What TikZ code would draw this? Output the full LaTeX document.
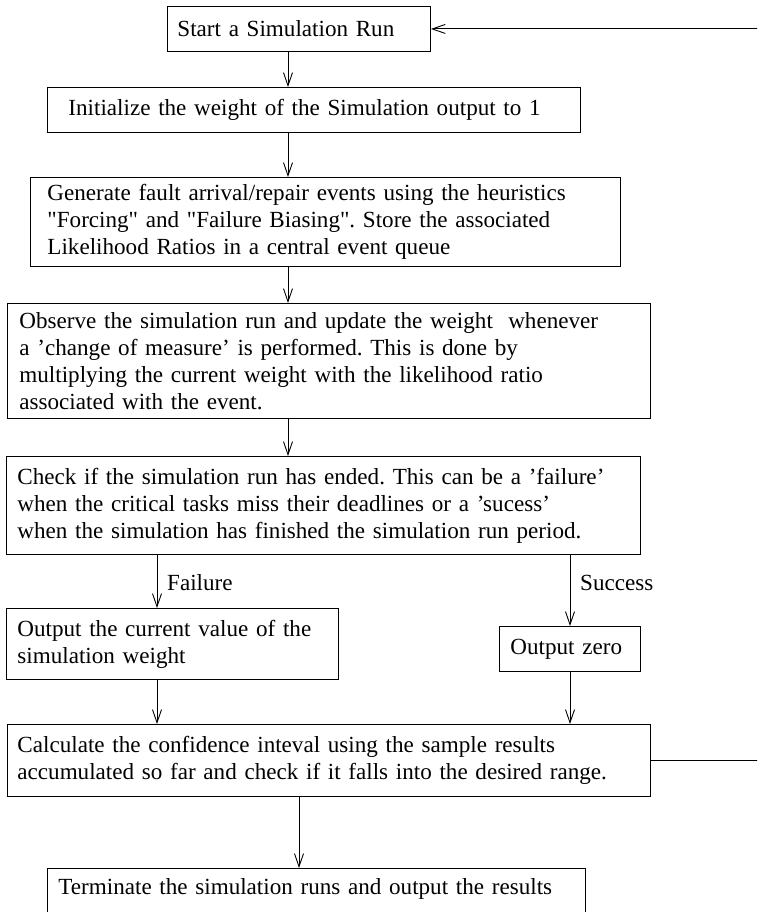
\documentclass[tikz,border=0pt]{standalone}
\usepackage{fontspec}
\setmainfont{Liberation Serif}
\usetikzlibrary{arrows.meta}
\frenchspacing
\hyphenpenalty=10000

\tikzset{
  box/.style={draw, line width=0.9pt, anchor=north west, inner ysep=0pt, align=left,
    font=\fontsize{23.1pt}{27pt}\selectfont},
  flow/.style={line width=0.9pt, -{Straight Barb[length=13pt,width=9pt]}},
  tag/.style={anchor=west, inner sep=0pt, font=\fontsize{23.1pt}{27pt}\selectfont}
}

\begin{document}
\begin{tikzpicture}[x=1pt, y=-1pt]
    \useasboundingbox (0,0) rectangle (757,912);
    \clip (0,0) rectangle (757,912);

    % Columns of the arrows
    \coordinate (axis) at (288,0);
    \coordinate (fail) at (157,0);
    \coordinate (succ) at (570,0);
    \coordinate (last) at (299,0);
    \coordinate (loop) at (775,0);

    % Drawing the boxes
    \node[box, inner xsep=10pt, text width=243pt, minimum height=45pt] (start) at (167,6)
        {Start a Simulation Run};
    \node[box, inner xsep=21pt, text width=491pt, minimum height=45pt] (init) at (47,87)
        {Initialize the weight of the Simulation output to 1};
    \node[box, inner xsep=17pt, text width=556pt, minimum height=89pt] (events) at (30,177)
        {Generate fault arrival/repair events using the heuristics\\
         \textquotedbl Forcing\textquotedbl{} and \textquotedbl Failure Biasing\textquotedbl. Store the associated\\
         Likelihood Ratios in a central event queue};
    \node[box, inner xsep=12pt, text width=619pt, minimum height=115pt] (observe) at (7,303)
        {Observe the simulation run and update the weight~ whenever\\
         a 'change of measure' is performed. This is done by\\
         multiplying the current weight with the likelihood ratio\\
         associated with the event.};
    \node[box, inner xsep=11pt, text width=612pt, minimum height=98pt] (check) at (6,456)
        {Check if the simulation run has ended. This can be a 'failure'\\
         when the critical tasks miss their deadlines or a 'sucess'\\
         when the simulation has finished the simulation run period.};
    \node[box, inner xsep=11pt, text width=310pt, minimum height=71pt] (value) at (6,608)
        {Output the current value of the\\
         simulation weight};
    \node[box, inner xsep=11pt, text width=119pt, minimum height=45pt] (zero) at (499,626)
        {Output zero};
    \node[box, inner xsep=10pt, text width=623pt, minimum height=72pt] (calc) at (7,724)
        {Calculate the confidence inteval using the sample results\\
         accumulated so far and check if it falls into the desired range.};
    \node[box, inner xsep=11pt, text width=516pt, text height=26pt, text depth=60pt] (stop) at (47,868)
        {Terminate the simulation runs and output the results};

    % Drawing the arrows
    \draw[flow] (start.south -| axis) -- (init.north -| axis);
    \draw[flow] (init.south -| axis) -- (events.north -| axis);
    \draw[flow] (events.south -| axis) -- (observe.north -| axis);
    \draw[flow] (observe.south -| axis) -- (check.north -| axis);
    \draw[flow] (check.south -| fail) -- (value.north -| fail);
    \draw[flow] (check.south -| succ) -- (zero.north -| succ);
    \draw[flow] (value.south -| fail) -- (calc.north -| fail);
    \draw[flow] (zero.south -| succ) -- (calc.north -| succ);
    \draw[flow] (calc.south -| last) -- (stop.north -| last);

    % Drawing the loop back to the start
    \draw[flow] (calc.east) -- (calc.east -| loop) -- (start.east -| loop) -- (start.east);

    % Drawing the labels
    \node[tag] (failtag) at (167,583) {Failure};
    \node[tag] (succtag) at (580,583) {Success};

\end{tikzpicture}
\end{document}
